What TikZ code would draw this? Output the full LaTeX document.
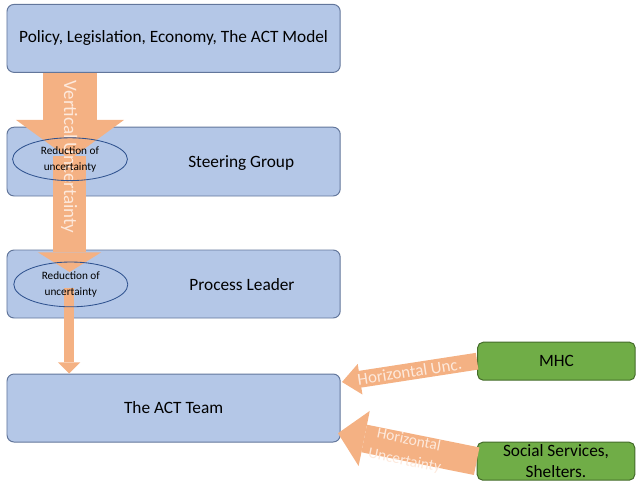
\documentclass[tikz,border=0pt]{standalone}
\usepackage{fontspec}
\setmainfont{Carlito}
\usepackage{xcolor}
\usepackage{tikz}
\usetikzlibrary{positioning,arrows.meta,calc,shapes.geometric}
\definecolor{layerfill}{RGB}{180,199,231}
\definecolor{layerdraw}{RGB}{98,118,155}
\definecolor{ovaldraw}{RGB}{47,82,143}
\definecolor{srcfill}{RGB}{112,173,71}
\definecolor{srcdraw}{RGB}{68,108,42}
\definecolor{flowc}{RGB}{244,177,131}
\definecolor{flowtext}{RGB}{253,233,220}
\tikzset{
  layer/.style={draw=layerdraw, fill=layerfill, line width=0.7pt, rounded corners=5pt,
                minimum width=8.33cm, minimum height=1.7cm, inner sep=0pt,
                font=\fontsize{12.3}{14.8}\selectfont},
  src/.style={draw=srcdraw, fill=srcfill, line width=0.7pt, rounded corners=4pt,
              minimum width=3.94cm, minimum height=0.95cm, inner sep=0pt, align=center,
              font=\fontsize{12.3}{15}\selectfont},
  lbl/.style={font=\fontsize{12.3}{14.8}\selectfont, inner sep=1pt},
  redux/.style={ellipse, draw=ovaldraw, line width=0.6pt, minimum width=2.87cm,
                minimum height=1.07cm, inner sep=0pt, align=center,
                font=\fontsize{8}{11.5}\selectfont},
  flow/.style={draw=flowc, line cap=butt},
  flowlbl/.style={text=flowtext, inner sep=0pt, align=center}
}

\begin{document}
\begin{tikzpicture}
\useasboundingbox (0,0) rectangle (16,-12.15);
% layers
\node[layer] (top) at (4.34,-0.96) {Policy, Legislation, Economy, The ACT Model};
\node[layer, minimum height=1.72cm] (sg) at (4.34,-4.04) {};
\node[layer] (pl) at (4.34,-7.10) {};
\node[layer] (team) at (4.34,-10.20) {The ACT Team};
\node[lbl] (sgtext) at (6.03,-4.07) {Steering Group};
\node[lbl] (pltext) at (6.05,-7.12) {Process Leader};
% sources
\node[src] (mhc) at (13.91,-9.03) {MHC};
\node[src] (soc) at (13.90,-11.53) {Social Services,\\Shelters.};
% vertical flow
\coordinate (e1) at (1.75,-3.98);
\coordinate (e2) at (1.77,-7.11);
\coordinate (v2) at (1.74,-3.90);
\coordinate (tip2) at (1.74,-6.80);
\coordinate (v3) at (1.73,-7.20);
\draw[flow, line width=39pt, -{Triangle[length=28pt, width=77pt, line width=0pt]}] (e1 |- top.south) -- (e1);
\draw[flow, line width=23pt, -{Triangle[length=14pt, width=45pt, line width=0pt]}] (v2) -- (tip2);
\draw[flow, line width=7pt, -{Triangle[length=8pt, width=16pt, line width=0pt]}] (v3) -- (v3 |- team.north);
\node[flowlbl, rotate=-90, font=\fontsize{13.5}{16}\selectfont] (vtext) at (1.73,-3.93) {Vertical Uncertainty};
\node[redux] (r1) at (e1) {Reduction of\\uncertainty};
\node[redux, minimum height=1.12cm, minimum width=2.85cm] (r2) at (e2) {Reduction of\\uncertainty};
% horizontal flow
\coordinate (h1) at (8.55,-9.55);
\coordinate (h2) at (8.45,-10.83);
\draw[flow, line width=12pt, -{Triangle[length=13pt, width=22pt, line width=0pt]}] (mhc.west) -- (h1)
  node[flowlbl, midway, sloped, font=\fontsize{12}{14}\selectfont] (hunc) {Horizontal Unc.};
\draw[flow, line width=20pt, -{Triangle[length=19pt, width=40pt, line width=0pt]}] (soc.west) -- (h2)
  node[flowlbl, midway, sloped, yshift=-2.5pt, font=\fontsize{11}{15}\selectfont] (hunc2) {Horizontal\\Uncertainty};
\end{tikzpicture}
\end{document}
